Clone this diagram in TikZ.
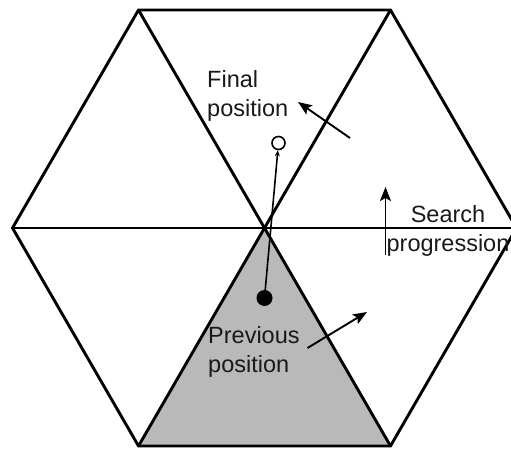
\documentclass[tikz,border=0pt]{standalone}
\usepackage{fontspec}
\setmainfont{Liberation Sans}
\usetikzlibrary{arrows.meta}
\begin{document}
\begin{tikzpicture}[x=1pt,y=-1pt,
  edge/.style={line width=2.9pt,line join=miter},
  pointer/.style={line width=1.9pt,-{Stealth[length=14pt,width=11pt,inset=3pt]}},
  label/.style={inner sep=0pt,font=\fontsize{23.5}{29}\selectfont,text=black!90}]
\useasboundingbox (0,0) rectangle (511,449);
\clip (0,0) rectangle (511,449);
\coordinate (C) at (264.5,228);
\coordinate (L) at (12.5,228);
\coordinate (R) at (516.5,228);
\coordinate (TL) at (138.5,10);
\coordinate (TR) at (390.5,10);
\coordinate (BL) at (138.5,446);
\coordinate (BR) at (390.5,446);
% shaded triangle
\fill[gray!55] (C) -- (BL) -- (BR) -- cycle;
% hexagon and diagonals
\draw[edge] (L) -- (TL) -- (TR) -- (R) -- (BR) -- (BL) -- cycle;
\draw[edge] (L) -- (R);
\draw[edge] (TL) -- (BR);
\draw[edge] (TR) -- (BL);
% positions
\node[circle,draw,line width=1.6pt,minimum size=13pt,inner sep=0pt,fill=white] (final) at (278.5,143) {};
\node[circle,fill=black,minimum size=16pt,inner sep=0pt] (prev) at (264.5,298) {};
\draw[line width=1.6pt,-{Stealth[length=6pt,width=5pt]}] (prev) -- (final);
% labels
\node[label,anchor=north west,align=left] (finaltxt) at (207,70) {Final\\position};
\node[label,anchor=north,align=center] (searchtxt) at (448,205.5) {Search\\progression};
\node[label,anchor=north west,align=left] (prevtxt) at (208,326.5) {Previous\\position};
% arrows
\coordinate (a1s) at (350,138);
\coordinate (a1e) at (298,102);
\coordinate (a2s) at (385.5,255);
\coordinate (a2e) at (385.5,187);
\coordinate (a3s) at (307.5,348);
\coordinate (a3e) at (367,312);
\draw[pointer] (a1s) -- (a1e);
\draw[pointer] (a2s) -- (a2e);
\draw[pointer] (a3s) -- (a3e);
\end{tikzpicture}
\end{document}
